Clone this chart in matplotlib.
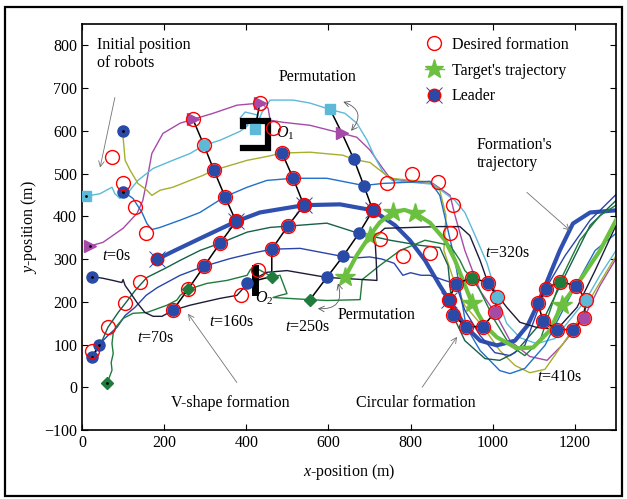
import numpy as np
import matplotlib
matplotlib.use("Agg")
import matplotlib.pyplot as plt
from matplotlib.lines import Line2D
from matplotlib.patches import Rectangle

plt.rcParams['font.family'] = ['Liberation Serif', 'DejaVu Serif']
plt.rcParams['mathtext.fontset'] = 'custom'
plt.rcParams['mathtext.rm'] = 'Liberation Serif'
plt.rcParams['mathtext.it'] = 'Liberation Serif:italic'

# robot trajectories (x, y) in metres
mag = np.array([[17,330],[51,339],[100,372],[134,407],[148,437],[158,484],[170,547],[197,594],[239,618],[270,627],
                [319,641],[377,660],[433,665],[453,653],[458,625],[489,620],[555,613],[633,594],[669,585],[701,555],
                [730,515],[750,489],[806,480],[854,477],[896,449],[908,402],[932,320],[969,226],[1005,175],[1042,109],
                [1090,72],[1132,63],[1168,98],[1222,163],[1261,238],[1300,301]])
cyan = np.array([[10,447],[44,453],[73,468],[80,453],[92,442],[110,453],[136,484],[173,512],[221,531],[263,547],
                 [297,566],[336,578],[385,599],[404,613],[385,630],[397,644],[428,637],[421,604],[438,643],[458,672],
                 [514,672],[555,665],[604,650],[640,641],[669,618],[694,578],[713,538],[733,503],[755,484],[854,475],
                 [908,437],[932,409],[957,355],[986,290],[1010,212],[1034,149],[1066,116],[1107,102],[1151,114],
                 [1227,205],[1261,262],[1300,320]])
olive = np.array([[100,599],[100,585],[105,531],[117,508],[136,477],[158,461],[170,449],[190,461],[221,468],[263,484],
                  [295,496],[321,508],[360,519],[402,531],[450,540],[487,548],[555,550],[635,543],[662,533],[701,526],
                  [725,508],[750,489],[847,480],[871,461],[886,402],[881,320],[901,262],[932,191],[976,142],[1017,86],
                  [1054,51],[1090,34],[1127,42],[1195,135],[1249,226],[1300,308]])
blue_a = np.array([[100,458],[124,442],[146,409],[158,383],[170,369],[190,374],[239,391],[287,409],[348,446],[402,468],
                   [450,484],[514,489],[596,489],[686,472],[733,477],[847,482],[871,449],[891,367],[908,297],[925,200],
                   [935,142],[969,86],[1017,39],[1042,32],[1078,44],[1127,98],[1165,170],[1202,238],[1249,320],[1300,360]])
leader = np.array([[182,299],[226,320],[287,348],[375,388],[433,409],[540,426],[628,428],[708,414],[762,379],[798,344],
                   [835,297],[871,238],[893,205],[932,144],[969,109],[1010,98],[1054,109],[1085,145],[1110,196],[1163,320],
                   [1195,383],[1237,409],[1300,414]])
teal = np.array([[24,70],[44,98],[63,140],[88,175],[105,196],[129,226],[158,257],[202,278],[239,297],[287,320],
                 [336,337],[402,363],[458,374],[501,377],[596,384],[674,360],[750,344],[823,332],[871,327],[891,285],
                 [903,168],[932,109],[981,67],[1017,63],[1054,81],[1122,156],[1176,261],[1237,379],[1300,437]])
blue_b = np.array([[42,100],[63,121],[85,140],[105,168],[129,187],[156,215],[183,233],[239,262],[297,283],[360,301],
                   [421,315],[462,323],[531,325],[635,306],[672,303],[700,305],[730,300],[760,290],[781,262],[800,268],
                   [825,262],[847,262],[883,250],[910,242],[932,180],[969,121],[1005,81],[1042,74],[1078,98],[1129,231],
                   [1176,308],[1237,391],[1300,451]])
green = np.array([[61,9],[73,40],[71,58],[76,79],[73,102],[76,128],[85,144],[100,161],[124,173],[158,175],
                  [207,192],[231,204],[239,215],[258,229],[304,243],[353,250],[402,262],[409,274],[416,281],[433,274],
                  [462,259],[482,262],[499,219],[482,215],[465,210],[555,205],[596,203],[677,205],[682,252],[725,285],
                  [774,320],[835,344],[896,332],[920,297],[932,273],[949,256],[969,226],[1005,156],[1042,98],[1078,74],
                  [1115,109],[1163,247],[1212,344],[1261,402],[1300,426]])
navy = np.array([[24,259],[51,255],[75,250],[97,245],[100,252],[105,238],[117,222],[134,198],[153,175],[173,166],
                 [195,166],[221,180],[263,192],[336,208],[377,215],[392,231],[402,245],[450,269],[499,273],[596,257],
                 [718,250],[716,301],[713,351],[737,372],[871,376],[920,376],[944,355],[969,297],[988,245],[1034,187],
                 [1066,152],[1107,140],[1156,135],[1205,187],[1249,273],[1300,379]])
target = np.array([[640,257],[669,309],[701,355],[725,386],[757,409],[785,415],[811,407],[847,385],[884,344],[908,297],
                   [949,198],[981,144],[1010,117],[1059,91],[1098,93],[1139,133],[1168,193],[1212,250],[1261,320],[1300,391]])
target_stars = [0, 2, 4, 6, 10, 16]

# snapshot positions, order: magenta, cyan, olive, blue_a, leader, teal, blue_b, green, navy
t0 = np.array([[19,330],[10,447],[100,599],[100,458],[182,299],[24,70],[42,100],[61,9],[24,259]])
t70 = np.array([[270,627],[297,566],[321,508],[348,446],[375,388],[336,337],[297,283],[258,229],[221,180]])
t160 = np.array([[433,665],[421,604],[487,548],[514,489],[540,426],[501,377],[462,323],[462,259],[402,245]])
t250 = np.array([[633,594],[604,650],[662,533],[686,472],[708,414],[674,360],[635,306],[555,205],[596,257]])
t320 = np.array([[1005,175],[1010,212],[976,142],[935,142],[893,205],[903,168],[910,242],[949,256],[988,245]])
t410 = np.array([[1222,163],[1227,205],[1195,135],[1202,238],[1110,196],[1122,156],[1129,231],[1163,247],[1156,135]])

desired = np.array([[73,538],[100,477],[129,421],[156,360],[24,86],[63,140],[105,196],[141,247],
                    [433,665],[465,606],[487,548],[514,489],[540,426],[501,377],[462,323],[428,274],[387,215],
                    [708,414],[742,477],[803,500],[866,480],[903,426],[896,360],[725,348],[781,306],[847,313]])

robots = [mag, cyan, olive, blue_a, leader, teal, blue_b, green, navy]
colors = ['#a64aa8', '#5cbad8', '#a8ae2c', '#1f70c8', '#3050b0', '#17604a', '#2a44aa', '#1f7c3c', '#1c1c3a']
widths = [1, 1, 1, 1, 3, 1, 1, 1, 1]
markers = ['>', 's', 'o', 'o', 'o', 'o', 'o', 'D', 'o']
dot = '#2a4aa8'
mcols = ['#a64aa8', '#5cbad8', dot, dot, dot, dot, dot, '#1f7c3c', dot]
msizes = [8, 6.5, 8, 8, 8, 8, 8, 6, 8]
tgreen = '#6cc040'
fs = 11.5

fig = plt.figure(figsize=(6.27, 4.99), dpi=100)
ax = fig.add_axes([0.1308, 0.1383, 0.8517, 0.8136])

for r, c, w in zip(robots, colors, widths):
    ax.plot(r[:, 0], r[:, 1], color=c, lw=w, zorder=2)

ax.plot(target[:, 0], target[:, 1], color=tgreen, lw=3, zorder=3)
ax.plot(target[target_stars, 0], target[target_stars, 1], ls='none', marker='*', ms=15,
        color=tgreen, zorder=3)

# formation links
kw = dict(color='black', lw=1.1, zorder=4)
ax.plot(t0[[5, 6], 0], t0[[5, 6], 1], **kw)
ax.plot(t70[:, 0], t70[:, 1], **kw)
ax.plot(t160[[0, 1], 0], t160[[0, 1], 1], **kw)
ax.plot(t160[2:, 0], t160[2:, 1], **kw)
order250 = [1, 0, 2, 3, 4, 5, 6, 8, 7]
ax.plot(t250[order250, 0], t250[order250, 1], **kw)
for snap in (t320, t410):
    c = snap.mean(axis=0)
    idx = np.argsort(np.arctan2(snap[:, 1] - c[1], snap[:, 0] - c[0]))
    idx = np.append(idx, idx[0])
    ax.plot(snap[idx, 0], snap[idx, 1], **kw)

# robot markers
for snap in (t0, t70, t160, t250):
    for i in range(9):
        ax.plot(snap[i, 0], snap[i, 1], ls='none', marker=markers[i], ms=msizes[i],
                color=mcols[i], mec=mcols[i], zorder=5)
for snap in (t320, t410):
    for i in range(9):
        ax.plot(snap[i, 0], snap[i, 1], ls='none', marker='o', ms=8,
                color=mcols[i], mec=mcols[i], zorder=5)
ax.plot(t0[:, 0], t0[:, 1], ls='none', marker='.', ms=2, color='black', zorder=6)

# desired formation rings
for pts in (desired, t70, t320, t410):
    ax.plot(pts[:, 0], pts[:, 1], ls='none', marker='o', ms=10, mfc='none', mec='red', mew=1, zorder=6)

# leader crosses
lead = np.array([t0[4], t70[4], t160[4], t250[4], t320[4]])
ax.plot(lead[:, 0], lead[:, 1], ls='none', marker='o', ms=9, mfc=dot, mec='red', mew=1, zorder=6)
ax.plot(lead[:, 0], lead[:, 1], ls='none', marker='x', ms=12, color=dot, mew=0.7, zorder=7)

# obstacles
ax.plot([392, 392, 452, 452, 392], [612, 622, 622, 560, 560], color='black', lw=4.5,
        solid_joinstyle='miter', zorder=4)
ax.plot([420, 420], [222, 278], color='black', lw=5, zorder=4)
ax.text(494, 594, '$O_1$', fontsize=fs, ha='center', va='center')
ax.text(443, 207, '$O_2$', fontsize=fs, ha='center', va='center')

ax.text(37, 780, 'Initial position\nof robots', fontsize=fs, ha='left', va='center', linespacing=1.15)
ax.text(574, 726, 'Permutation', fontsize=fs, ha='center', va='center')
ax.text(718, 168, 'Permutation', fontsize=fs, ha='center', va='center')
ax.text(961, 545, "Formation's\ntrajectory", fontsize=fs, ha='left', va='center', linespacing=1.15)
ax.text(360, -38, 'V-shape formation', fontsize=fs, ha='center', va='center')
ax.text(813, -38, 'Circular formation', fontsize=fs, ha='center', va='center')
for s, x, y in [('0', 85, 307), ('70', 178, 116), ('160', 363, 152), ('250', 550, 140),
                ('320', 1037, 313), ('410', 1163, 23)]:
    ax.text(x, y, '$t$=' + s + 's', fontsize=fs, ha='center', va='center')

arr = dict(arrowstyle='->', color='0.45', lw=0.6, shrinkA=0, shrinkB=0)
ax.annotate('', xy=(44, 514), xytext=(80, 678), arrowprops=arr)
ax.annotate('', xy=(258, 172), xytext=(377, 11), arrowprops=arr)
ax.annotate('', xy=(913, 118), xytext=(828, 0), arrowprops=arr)
ax.annotate('', xy=(1188, 367), xytext=(1083, 456), arrowprops=arr)
carr = dict(arrowstyle='<->', color='0.35', lw=0.6, shrinkA=0, shrinkB=0, connectionstyle='arc3,rad=-0.7')
ax.annotate('', xy=(655, 600), xytext=(636, 668), arrowprops=carr)
ax.annotate('', xy=(574, 184), xytext=(623, 243), arrowprops=carr)

# legend
h1 = Line2D([], [], ls='none', marker='o', ms=10, mfc='none', mec='red', mew=1)
h2 = Line2D([], [], color=tgreen, lw=1, marker='*', ms=14)
h3a = Line2D([], [], ls='none', marker='o', ms=9, mfc=dot, mec='red', mew=1)
h3b = Line2D([], [], ls='none', marker='x', ms=12, color=dot, mew=0.7)
ax.legend([h1, h2, (h3a, h3b)], ['Desired formation', "Target's trajectory", 'Leader'],
          loc='upper left', bbox_to_anchor=(0.642, 0.968), frameon=False, fontsize=fs,
          handlelength=1.2, handletextpad=0.5, labelspacing=0.6, borderpad=0, borderaxespad=0)

ax.set_xlim(0, 1300)
ax.set_ylim(-100, 850)
ax.set_xticks(range(0, 1201, 200))
ax.set_yticks(range(-100, 801, 100))
ax.tick_params(direction='in', top=True, right=True, length=4, width=0.8, labelsize=fs)
for sp in ax.spines.values():
    sp.set_linewidth(1.2)
ax.set_xlabel('$x$-position (m)', fontsize=fs, labelpad=8)
ax.set_ylabel('$y$-position (m)', fontsize=fs, labelpad=4)

fig.patches.append(Rectangle((0.008, 0.006), 0.984, 0.980, transform=fig.transFigure,
                             fill=False, ec='black', lw=1.6))

fig.savefig('out.png', dpi=100)
